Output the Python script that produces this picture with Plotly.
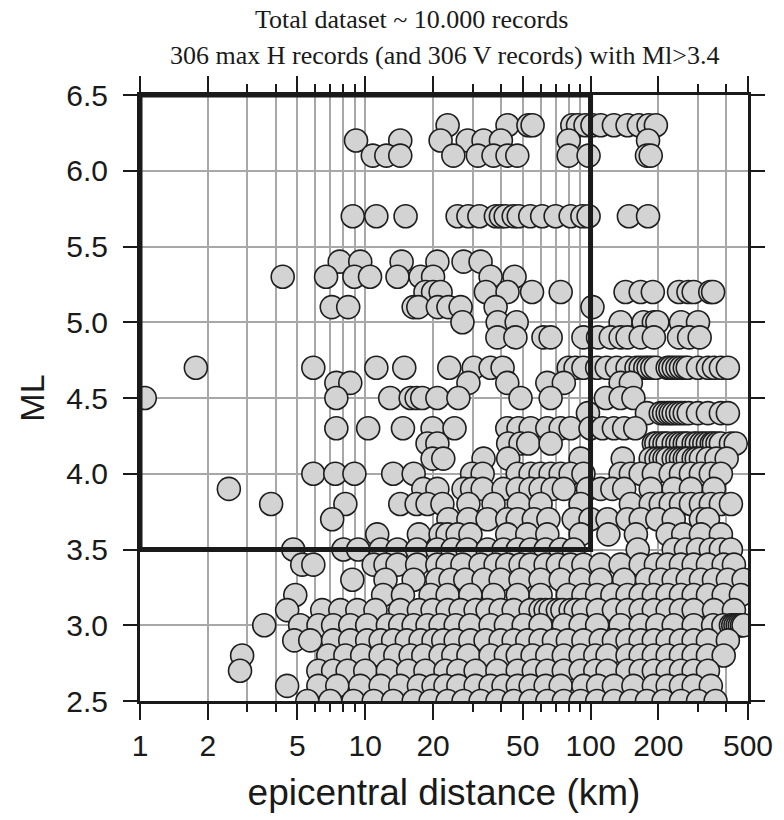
import plotly.graph_objects as go

# ---- data: epicentral distance (km) of records for each ML level ----
d63 = [23.2, 42.8, 53, 55.3, 83, 88, 95, 102, 111, 127, 146, 164, 181, 195]
d62 = [9.1, 14.3, 21.6, 28.5, 33.5, 40, 80, 180]
d61 = [10.8, 12.4, 14.3, 24.6, 31.6, 37.1, 42.8, 47.3, 80, 98, 178, 185]
d57 = [8.8, 11.2, 15.1, 25.7, 28.7, 32.1, 38, 40, 42, 45.6, 48, 54, 61, 70, 81.6, 92, 98, 148, 180]
d54 = [7.7, 9.5, 14.5, 20.9, 27.3, 32.5]
d53 = [4.3, 6.7, 8.95, 10.5, 13.9, 17.6, 20, 36, 46]
d52 = [18.5, 20, 21.6, 34.3, 42.8, 55, 73.7, 143, 167, 189, 247, 272, 287, 340, 350]
d51 = [7.1, 8.4, 16.4, 17.2, 21, 23.4, 26.5, 37.9, 102]
d50 = [27, 38.7, 47, 136, 172, 191, 198, 252, 300]
d49 = [38.6, 46.4, 61.8, 66.5, 93, 108, 123, 136, 146, 167, 191, 247, 274, 305]
d47 = [1.77, 5.88, 11.2, 14.9, 23.6, 30.3, 36.0, 40.7, 80.0, 85.8, 93.0, 107, 118, 131, 146,
       160, 167, 175, 181, 188, 195, 220, 226, 234, 243, 252, 262, 270, 300, 332, 353, 379, 407]
d46 = [7.44, 8.58, 28.7, 42.7, 64.3, 76.1, 136, 151]
d45 = [1.05, 7.44, 12.9, 15.9, 16.9, 17.9, 20.9, 25.9, 48.9, 66.5, 117, 136, 155]
d44 = [97.4, 178, 205, 212, 220, 227, 234, 243, 252, 262, 273, 300, 332, 379, 407]
d43 = [7.44, 10.3, 14.7, 19.9, 24.9, 42.7, 47.9, 54.2, 64.3, 73.7, 81.6, 100, 113, 127, 141, 158]
d42 = [18.9, 20.9, 43.1, 48.9, 52.9, 66.5, 191, 196, 205, 213, 220, 234, 243, 252, 262, 270,
       287, 296, 309, 320, 332, 345, 353, 366, 379, 420, 441]
d41 = [19.9, 22.2, 33.5, 43.1, 90.4, 139, 185, 196, 205, 213, 220, 234, 243, 252, 262, 270,
       287, 296, 309, 332, 362, 402]
d40 = [5.88, 7.36, 8.95, 13.3, 16.4, 29.8, 33.2, 47.5, 54.2, 60.0, 66.5, 73.7, 81.6, 93.0, 136,
       151, 167, 191, 227, 252, 279, 309, 342, 379]
d39 = [2.48, 18.1, 20.9, 27.3, 29.8, 33.2, 41.1, 47.5, 54.2, 60.0, 67.9, 76.1, 97.4, 111, 125,
       141, 185, 234, 279, 353]
d38 = [3.82, 8.16, 14.3, 16.9, 18.9, 22.0, 28.7, 37.1, 48.0, 60.0, 90.4, 151, 185, 205, 227,
       252, 279, 309, 342, 379, 420]
d37 = [7.13, 23.4, 28.7, 34.9, 42.7, 47.5, 56.0, 65.0, 84.2, 100, 119, 146, 167, 198, 234, 309, 332]
d36 = [11.3, 17.3, 21.6, 23.2, 25.7, 29.3, 42.7, 52.4, 64.3, 90.4, 120, 159, 220, 258, 309, 379]
d35 = [4.79, 8.0, 9.3, 11.7, 13.9, 17.0, 20.9, 24.4, 28.4, 34.9, 41.1, 47.5, 54.2, 63.2, 73.7,
       84.2, 162, 234, 265, 300, 342, 379, 420]
d34 = [5.25, 5.88, 10.9, 12.3, 13.9, 17.0, 20.9, 23.2, 27.0, 32.5, 37.9, 42.7, 48.9, 54.2, 63.2,
       71.6, 81.6, 93.0, 111, 136, 167, 195, 220, 252, 287, 332, 390, 433]
d33 = [8.76, 12.3, 16.4, 20.9, 23.9, 27.8, 33.5, 39.9, 48.9, 60.0, 73.7, 90.4, 111, 141, 178,
       205, 234, 270, 309, 353, 407, 478]
d32 = [4.89, 12.0, 14.7, 19.5, 23.2, 29.3, 37.1, 47.5, 60.0, 79.3, 93.0, 107, 125, 146, 167,
       191, 220, 252, 287, 332, 390, 465]
d31 = [4.50, 6.44, 7.75, 9.22, 11.1, 14.3, 17.3, 19.9, 23.2, 26.5, 30.9, 34.9, 39.9, 45.6, 54.2,
       60.0, 63.2, 66.5, 71.6, 75.0, 81.6, 86.0, 93.0, 108, 127, 146, 167, 191, 220, 252, 287,
       353, 433]
d30 = [3.56, 5.14, 6.2, 7.2, 8.58, 10.2, 12.6, 14.3, 16.4, 18.9, 21.6, 25.2, 29.3, 36.0, 42.1,
       50.5, 60.0, 76.1, 90.4, 107, 136, 167, 198, 234, 287, 350, 389, 420, 430, 440, 450,
       460, 470, 478]
d29 = [4.84, 5.7, 7.2, 8.58, 10.2, 11.7, 13.3, 15.3, 17.6, 20.1, 22.2, 25.2, 29.3, 34.2, 39.9,
       45.6, 52.4, 60.0, 68.8, 79.3, 93.0, 111, 127, 146, 167, 191, 220, 252, 287, 332, 407]
d28 = [2.84, 6.85, 8.16, 9.69, 11.7, 13.6, 15.9, 18.1, 21.6, 24.6, 28.7, 36.0, 42.1, 47.5, 55.3,
       64.3, 76.1, 90.4, 105, 119, 146, 167, 191, 220, 252, 287, 332, 390]
d27 = [2.78, 6.19, 7.2, 8.35, 10.0, 12.6, 15.5, 18.5, 22.7, 25.9, 30.9, 38.6, 47.5, 56.0, 64.3,
       76.1, 90.4, 105, 119, 146, 167, 191, 220, 252, 287, 332]
d26 = [4.50, 6.19, 7.51, 9.5, 11.7, 14.3, 17.3, 20.1, 22.7, 25.9, 30.9, 36.0, 41.1, 47.5, 54.2,
       63.2, 73.7, 93.0, 108, 127, 155, 191, 220, 252, 287, 342]
d25 = [5.53, 6.99, 8.86, 10.9, 13.3, 16.4, 19.5, 23.2, 27.3, 32.5, 38.6, 45.6, 54.2, 64.3, 76.1,
       90.4, 107, 127, 151, 178, 211, 252, 300, 359]

ml_levels = [6.3, 6.2, 6.1, 5.7, 5.4, 5.3, 5.2, 5.1, 5.0, 4.9, 4.7, 4.6, 4.5, 4.4, 4.3, 4.2,
             4.1, 4.0, 3.9, 3.8, 3.7, 3.6, 3.5, 3.4, 3.3, 3.2, 3.1, 3.0, 2.9, 2.8, 2.7, 2.6, 2.5]
rows = [d63, d62, d61, d57, d54, d53, d52, d51, d50, d49, d47, d46, d45, d44, d43, d42,
        d41, d40, d39, d38, d37, d36, d35, d34, d33, d32, d31, d30, d29, d28, d27, d26, d25]

# selection box (distance < 100 km, ML > 3.5)
box_x = [1, 100, 100, 1, 1]
box_y = [3.5, 3.5, 6.5, 6.5, 3.5]

x_ticks = [1, 2, 5, 10, 20, 50, 100, 200, 500]
x_minor = [3, 4, 6, 7, 8, 9, 30, 40, 60, 70, 80, 90, 300, 400]
y_ticks = [2.5, 3.0, 3.5, 4.0, 4.5, 5.0, 5.5, 6.0, 6.5]

xs, ys = [], []
for m, r in zip(ml_levels, rows):
    xs += r
    ys += [m] * len(r)

fig = go.Figure()
fig.add_trace(go.Scatter(
    x=xs, y=ys, mode="markers",
    marker=dict(size=23, color="#d3d3d3", line=dict(color="#1e1e1e", width=1.6)),
    hoverinfo="skip", showlegend=False))
fig.add_trace(go.Scatter(
    x=box_x, y=box_y, mode="lines",
    line=dict(color="#1a1a1a", width=5),
    hoverinfo="skip", showlegend=False))

sans = "Liberation Sans, Arial, sans-serif"
serif = "Liberation Serif, Times New Roman, serif"
grid = "#a8a8a8"
ink = "#1a1a1a"

fig.update_layout(
    width=784, height=820,
    margin=dict(l=140, r=36, t=95, b=119),
    paper_bgcolor="white", plot_bgcolor="white",
    font=dict(family=sans, color=ink),
    xaxis=dict(
        type="log", range=[0, 2.69897],
        tickmode="array", tickvals=x_ticks, ticktext=[str(v) for v in x_ticks],
        ticks="outside", ticklen=16, tickwidth=1.5, tickcolor=ink,
        showline=True, linewidth=3, linecolor=ink, mirror="ticks",
        showgrid=True, gridcolor=grid, gridwidth=1.5, zeroline=False,
        minor=dict(tickmode="array", tickvals=x_minor, ticks="outside", ticklen=8,
                   tickwidth=1.5, tickcolor=ink, showgrid=True, gridcolor=grid,
                   gridwidth=1.5),
        tickfont=dict(family=sans, size=30, color=ink),
        title=dict(text="epicentral distance (km)", font=dict(family=sans, size=37, color=ink),
                   standoff=19),
    ),
    yaxis=dict(
        range=[2.5, 6.5],
        tickmode="array", tickvals=y_ticks, ticktext=["%.1f" % v for v in y_ticks],
        ticks="outside", ticklen=14, tickwidth=1.5, tickcolor=ink,
        showline=True, linewidth=3, linecolor=ink, mirror="ticks",
        showgrid=True, gridcolor=grid, gridwidth=1.5, zeroline=False,
        ticklabelstandoff=9,
        tickfont=dict(family=sans, size=30, color=ink),
        title=dict(text="ML", font=dict(family=sans, size=34, color=ink), standoff=12),
    ),
    annotations=[
        dict(text="Total dataset ~ 10.000 records", xref="paper", yref="paper",
             x=0.447, y=1.124, xanchor="center", yanchor="middle", showarrow=False,
             font=dict(family=serif, size=26, color=ink)),
        dict(text="306 max H records (and 306 V records) with Ml&gt;3.4", xref="paper",
             yref="paper", x=0.502, y=1.066, xanchor="center", yanchor="middle",
             showarrow=False, font=dict(family=serif, size=26, color=ink)),
    ],
)

fig.write_html("out.html")
